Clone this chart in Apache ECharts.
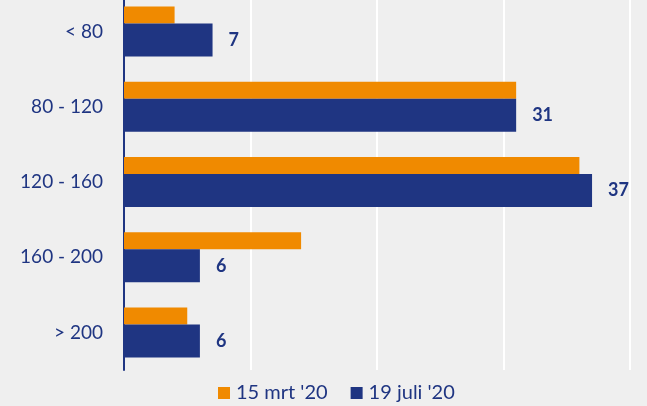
<!DOCTYPE html>
<html><head><meta charset="utf-8">
<script src="https://cdn.jsdelivr.net/npm/echarts@6/dist/echarts.min.js"></script>
<style>html,body{margin:0;padding:0;background:#efefef;overflow:hidden;}#c{width:647px;height:412px;margin-top:-6px;}</style>
</head><body><div id="c"></div>
<script>
const categories = ['< 80', '80 - 120', '120 - 160', '160 - 200', '> 200'];
const mrt = [4, 31, 36, 14, 5];
const juli = [7, 31, 37, 6, 6];
const seriesNames = ["15 mrt '20", "19 juli '20"];
const xTicks = [0, 10, 20, 30, 40];

const navy = '#1f3582';
const orange = '#f08a00';
const chart = echarts.init(document.getElementById('c'));
chart.setOption({
  backgroundColor: '#efefef',
  animation: false,
  textStyle: { fontFamily: 'Lato' },
  grid: { left: 124, right: 17, top: 0, height: 376 },
  legend: {
    top: 389, left: 218, padding: 0, itemWidth: 12, itemHeight: 12, itemGap: 23,
    icon: 'rect',
    textStyle: { color: navy, fontSize: 20, fontFamily: 'Lato', padding: [0, 0, 0, 1] },
    data: seriesNames
  },
  xAxis: {
    type: 'value', min: xTicks[0], max: xTicks[xTicks.length - 1], interval: 10,
    axisLabel: { show: false }, axisLine: { show: false }, axisTick: { show: false },
    splitLine: { show: true, lineStyle: { color: '#ffffff', width: 2 } }
  },
  yAxis: {
    type: 'category', data: categories, inverse: true,
    axisLine: { show: true, lineStyle: { color: navy, width: 2 } },
    axisTick: { show: false },
    axisLabel: { color: navy, fontSize: 19, margin: 21, fontFamily: 'Lato' }
  },
  series: [
    { name: seriesNames[0], type: 'bar', data: mrt, barWidth: 17, barGap: '0%',
      itemStyle: { color: orange } },
    { name: seriesNames[1], type: 'bar', data: juli, barWidth: 33, barGap: '0%',
      itemStyle: { color: navy },
      label: { show: true, position: 'right', distance: 16, color: navy, fontSize: 18, fontWeight: 'bold', fontFamily: 'Lato' } }
  ]
});
</script></body></html>
